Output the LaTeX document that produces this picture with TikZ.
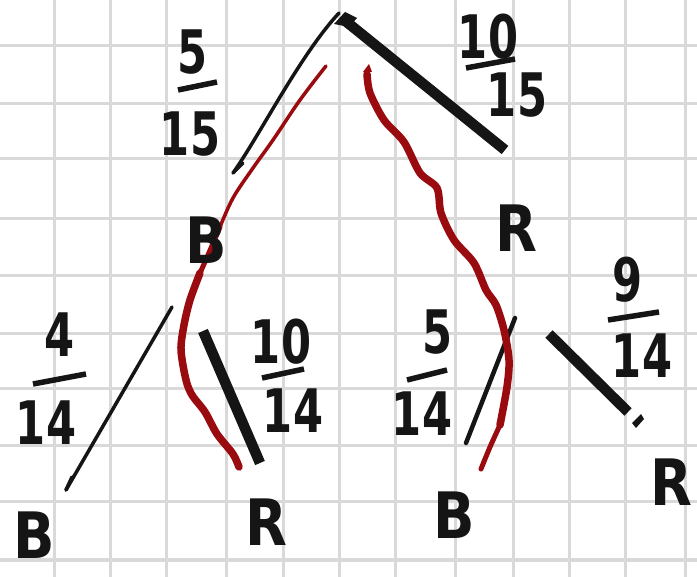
\documentclass[tikz,border=0pt]{standalone}
\usepackage{fontspec}
\setmainfont{DejaVu Sans}
\usepackage{graphicx}
\definecolor{ink}{HTML}{151515}
\definecolor{redink}{HTML}{9A0B10}
\definecolor{gridc}{HTML}{D9D9D9}
\newcommand\hwnum[1]{\scalebox{0.72}[1]{\bfseries #1}}
\newcommand\hwlet[1]{\scalebox{0.85}[1]{\bfseries #1}}
\begin{document}
\begin{tikzpicture}[x=1pt,y=-1pt,
  gridline/.style={gridc,line width=3pt},
  thinbr/.style={ink,line width=3.5pt,line cap=round},
  thickbr/.style={ink,line width=10.5pt},
  barline/.style={ink,line width=5.5pt},
  redpath/.style={redink,line width=7.5pt,line cap=round,line join=round},
  redthin/.style={redink,line width=3.5pt,line cap=round,line join=round},
  lbl/.style={font=\fontsize{64}{64}\selectfont, text=ink, inner sep=0pt},
  num/.style={font=\fontsize{60}{60}\selectfont, text=ink, inner sep=0pt},
]
\fill[white] (0,0) rectangle (697,577);
\useasboundingbox (0,0) rectangle (697,577);
% grid
\foreach \gx in {54,110,166,226,283,339,395,455,513,569,625,685}
  \draw[gridline] (\gx,0) -- (\gx,577);
\foreach \gy in {46,104,159,219,276,334,389,446,502,560}
  \draw[gridline] (0,\gy) -- (697,\gy);

% coordinates of branch ends
\coordinate (rootL) at (339,13);
\coordinate (rootR) at (343,19);
\coordinate (tlEnd) at (233,173);
\coordinate (trEnd) at (505,150);
\coordinate (llTop) at (172,307);
\coordinate (llEnd) at (66,490);
\coordinate (lrTop) at (203,331);
\coordinate (lrEnd) at (260,463);
\coordinate (rlTop) at (515,318);
\coordinate (rlEnd) at (466,443);
\coordinate (rrTop) at (549,334);
\coordinate (rrEnd) at (628,412);

% black branches
\draw[thinbr] (rootL) .. controls (300,55) and (260,135) .. (tlEnd);
\draw[thinbr] (tlEnd) -- (243,163);
\draw[thickbr] (rootR) -- (trEnd);
\fill[ink] (334,24) -- (345,12) -- (357,18) -- (349,27) -- cycle;
\draw[thinbr] (llTop) -- (llEnd);
\draw[thinbr] (llEnd) -- (72,477);
\draw[thickbr] (lrTop) -- (lrEnd);
\draw[ink,line width=4.5pt,line cap=round] (rlTop) -- (rlEnd);
\draw[thickbr] (rrTop) -- (rrEnd);
\fill[ink] (632,423) -- (641,414) -- (644,419) -- (636,428) -- cycle;

% red paths
\draw[redthin] plot[smooth,tension=0.6] coordinates {(326,66) (300,100) (273,140) (253,168) (233,198) (220,227)};
\draw[redink,line width=5pt,line cap=round] plot[smooth,tension=0.6] coordinates {(220,227) (208,255) (200,273)};
\draw[redpath] plot[smooth,tension=0.5] coordinates {(200,273) (190,300) (184,325) (181,350) (186,380) (192,395) (205,412) (217,434) (233,454) (239,467)};
\draw[redpath] plot[smooth,tension=0.5] coordinates {(367,74) (370,93) (384,120) (404,142) (420,173) (437,188) (441,213) (454,240) (474,263) (486,290) (496,305) (504,330) (509,360) (507,387) (500,425)};
\draw[redink,line width=5pt,line cap=round] plot[smooth,tension=0.5] coordinates {(500,425) (490,447) (481,469)};
\fill[redink] (363,72) -- (369,64) -- (372,72) -- cycle;

% labels
\node[lbl] (B1) at (206,240) {\hwlet{B}};
\node[lbl] (R1) at (516,228) {\hwlet{R}};
\node[lbl] (B2) at (34,535) {\hwlet{B}};
\node[lbl] (R2) at (266,522) {\hwlet{R}};
\node[lbl] (B3) at (454,515) {\hwlet{B}};
\node[lbl] (R3) at (671,482) {\hwlet{R}};

% fractions
\node[num] (n515) at (193,52) {\hwnum{5}};
\draw[barline] (178,90) -- (217,82);
\node[num] (d515) at (190,134) {\hwnum{15}};

\node[num] (n1015) at (488,37) {\hwnum{10}};
\draw[barline] (466,68) -- (515,59);
\node[num] (d1015) at (517,95) {\hwnum{15}};

\node[num] (n414) at (60,335) {\hwnum{4}};
\draw[barline] (33,384) -- (86,374);
\node[num] (d414) at (46,423) {\hwnum{14}};

\node[num] (n1014) at (281,342) {\hwnum{10}};
\draw[barline] (262,378) -- (304,369);
\node[num] (d1014) at (293,411) {\hwnum{14}};

\node[num] (n514) at (438,332) {\hwnum{5}};
\draw[barline] (407,380) -- (447,370);
\node[num] (d514) at (422,414) {\hwnum{14}};

\node[num] (n914) at (628,280) {\hwnum{9}};
\draw[barline] (608,320) -- (659,312);
\node[num] (d914) at (642,356) {\hwnum{14}};
\end{tikzpicture}
\end{document}
